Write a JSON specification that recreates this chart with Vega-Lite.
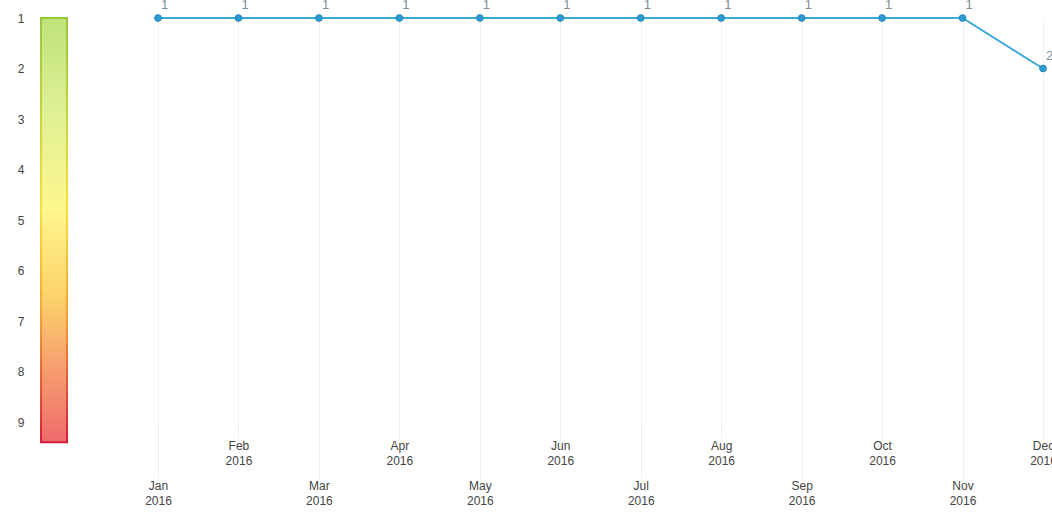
{
  "$schema": "https://vega.github.io/schema/vega-lite/v6.json",
  "autosize": "none",
  "width": 1017,
  "height": 404,
  "padding": {"left": 35, "top": 18, "right": 0, "bottom": 97},
  "background": "white",
  "config": {
    "view": {"stroke": null},
    "font": "Liberation Sans"
  },
  "data": {
    "values": [
      {"month": 1, "rank": 1},
      {"month": 2, "rank": 1},
      {"month": 3, "rank": 1},
      {"month": 4, "rank": 1},
      {"month": 5, "rank": 1},
      {"month": 6, "rank": 1},
      {"month": 7, "rank": 1},
      {"month": 8, "rank": 1},
      {"month": 9, "rank": 1},
      {"month": 10, "rank": 1},
      {"month": 11, "rank": 1},
      {"month": 12, "rank": 2}
    ]
  },
  "layer": [
    {
      "data": {"values": [{"left": -0.454, "right": -0.131, "top": 1, "bottom": 9.4}]},
      "mark": {
        "type": "rect",
        "strokeWidth": 2,
        "fill": {
          "gradient": "linear", "x1": 0, "y1": 0, "x2": 0, "y2": 1,
          "stops": [
            {"offset": 0, "color": "#bfe27a"},
            {"offset": 0.2, "color": "#dcef94"},
            {"offset": 0.45, "color": "#fff68e"},
            {"offset": 0.65, "color": "#fcd46a"},
            {"offset": 0.82, "color": "#f6a070"},
            {"offset": 1, "color": "#ef6b6b"}
          ]
        },
        "stroke": {
          "gradient": "linear", "x1": 0, "y1": 0, "x2": 0, "y2": 1,
          "stops": [
            {"offset": 0, "color": "#94c83a"},
            {"offset": 0.45, "color": "#f2e040"},
            {"offset": 0.7, "color": "#f5a030"},
            {"offset": 1, "color": "#d21d3a"}
          ]
        }
      },
      "encoding": {
        "x": {"field": "left", "type": "quantitative"},
        "x2": {"field": "right"},
        "y": {"field": "top", "type": "quantitative"},
        "y2": {"field": "bottom"}
      }
    },
    {
      "mark": {"type": "line", "color": "#3aa8d8", "strokeWidth": 2},
      "encoding": {
        "x": {
          "field": "month", "type": "quantitative",
          "scale": {"domain": [-0.529, 12.112], "nice": false, "zero": false},
          "axis": {
            "title": null,
            "values": [1, 2, 3, 4, 5, 6, 7, 8, 9, 10, 11, 12],
            "labelExpr": "[['Jan','Feb','Mar','Apr','May','Jun','Jul','Aug','Sep','Oct','Nov','Dec'][datum.value - 1], '2016']",
            "labelFontSize": 12,
            "labelColor": "#444444",
            "labelLineHeight": 15,
            "labelBaseline": "top",
            "labelFlush": false,
            "labelOverlap": false,
            "labelPadding": 2,
            "tickSize": {"condition": {"test": "datum.value % 2 == 1", "value": 56}, "value": 16},
            "tickColor": "#eeeeee",
            "tickWidth": 1,
            "domain": false,
            "grid": true,
            "gridColor": "#f1f1f1",
            "gridWidth": 1
          }
        },
        "y": {
          "field": "rank", "type": "quantitative",
          "scale": {"domain": [1, 9], "reverse": true, "nice": false, "zero": false},
          "axis": {
            "title": null,
            "values": [1, 2, 3, 4, 5, 6, 7, 8, 9],
            "labelFontSize": 12,
            "labelColor": "#444444",
            "labelPadding": 11,
            "ticks": false,
            "domain": false,
            "grid": false
          }
        }
      }
    },
    {
      "mark": {"type": "point", "filled": true, "size": 45, "color": "#2c9bd3", "stroke": "#1f86bd", "strokeWidth": 1, "opacity": 1},
      "encoding": {
        "x": {"field": "month", "type": "quantitative"},
        "y": {"field": "rank", "type": "quantitative"}
      }
    },
    {
      "mark": {"type": "text", "align": "left", "baseline": "bottom", "dx": 3, "dy": -6, "fontSize": 13, "color": "#7f8f9a"},
      "encoding": {
        "x": {"field": "month", "type": "quantitative"},
        "y": {"field": "rank", "type": "quantitative"},
        "text": {"field": "rank", "type": "quantitative"}
      }
    }
  ]
}
